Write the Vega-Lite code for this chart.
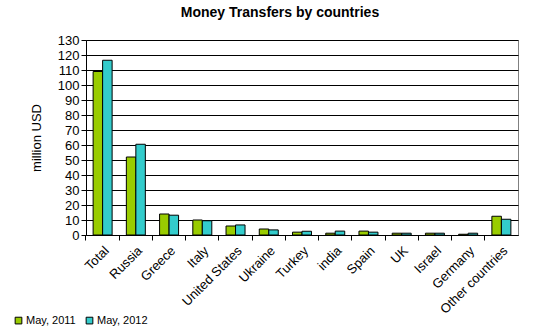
{
  "$schema": "https://vega.github.io/schema/vega-lite/v6.json",
  "autosize": "none",
  "width": 432,
  "height": 195,
  "padding": {"left": 86, "top": 40, "right": 15, "bottom": 99},
  "background": "white",
  "title": {"text": "Money Transfers by countries", "font": "Liberation Sans", "fontSize": 14, "fontWeight": "bold", "color": "black", "anchor": "middle", "offset": 14, "dx": -22},
  "config": {
    "view": {"stroke": "#808080", "strokeWidth": 1},
    "font": "Liberation Sans"
  },
  "data": {"values": [
    {"country": "Total", "period": "May, 2011", "value": 109},
    {"country": "Total", "period": "May, 2012", "value": 116.5},
    {"country": "Russia", "period": "May, 2011", "value": 52},
    {"country": "Russia", "period": "May, 2012", "value": 60.5},
    {"country": "Greece", "period": "May, 2011", "value": 14},
    {"country": "Greece", "period": "May, 2012", "value": 13.2},
    {"country": "Italy", "period": "May, 2011", "value": 10},
    {"country": "Italy", "period": "May, 2012", "value": 9.5},
    {"country": "United States", "period": "May, 2011", "value": 6},
    {"country": "United States", "period": "May, 2012", "value": 6.7},
    {"country": "Ukraine", "period": "May, 2011", "value": 4},
    {"country": "Ukraine", "period": "May, 2012", "value": 3.4},
    {"country": "Turkey", "period": "May, 2011", "value": 1.9},
    {"country": "Turkey", "period": "May, 2012", "value": 2.5},
    {"country": "india", "period": "May, 2011", "value": 1.2},
    {"country": "india", "period": "May, 2012", "value": 2.6},
    {"country": "Spain", "period": "May, 2011", "value": 2.6},
    {"country": "Spain", "period": "May, 2012", "value": 1.9},
    {"country": "UK", "period": "May, 2011", "value": 1.2},
    {"country": "UK", "period": "May, 2012", "value": 1.2},
    {"country": "Israel", "period": "May, 2011", "value": 1.2},
    {"country": "Israel", "period": "May, 2012", "value": 1.2},
    {"country": "Germany", "period": "May, 2011", "value": 0.5},
    {"country": "Germany", "period": "May, 2012", "value": 1.2},
    {"country": "Other countries", "period": "May, 2011", "value": 12.5},
    {"country": "Other countries", "period": "May, 2012", "value": 10.5}
  ]},
  "mark": {"type": "bar", "stroke": "black", "strokeWidth": 1},
  "encoding": {
    "x": {
      "field": "country", "type": "nominal", "sort": null, "title": null,
      "scale": {"paddingInner": 0, "paddingOuter": 0},
      "axis": {
        "labelAngle": -45, "labelFontSize": 13, "labelColor": "black", "labelFont": "Liberation Sans",
        "bandPosition": 0, "labelPadding": 4,
        "domainColor": "black", "tickColor": "black", "tickSize": 5, "labelLimit": 200
      }
    },
    "xOffset": {"field": "period", "type": "nominal", "sort": null, "scale": {"paddingInner": 0, "paddingOuter": 0.75}},
    "y": {
      "field": "value", "type": "quantitative", "title": "million USD",
      "scale": {"domain": [0, 130], "nice": false},
      "axis": {
        "values": [0,10,20,30,40,50,60,70,80,90,100,110,120,130],
        "labelFontSize": 13, "labelColor": "black", "labelFont": "Liberation Sans",
        "titleFontSize": 13, "titleFontWeight": "normal", "titleColor": "black", "titleFont": "Liberation Sans",
        "titlePadding": 14,
        "domainColor": "black", "tickColor": "black", "tickSize": 5,
        "grid": true, "gridColor": "black", "gridWidth": 1, "gridOpacity": 1
      }
    },
    "color": {
      "field": "period", "type": "nominal", "sort": null,
      "scale": {"range": ["#99cc00", "#33cccc"]},
      "legend": {
        "title": null, "orient": "none", "direction": "horizontal",
        "legendX": -73, "legendY": 275,
        "symbolType": "square", "symbolSize": 45, "symbolStrokeColor": "black", "symbolStrokeWidth": 1,
        "labelFontSize": 11, "labelColor": "black", "labelFont": "Liberation Sans",
        "columnPadding": 8, "symbolOffset": 0, "labelOffset": 2
      }
    }
  }
}
